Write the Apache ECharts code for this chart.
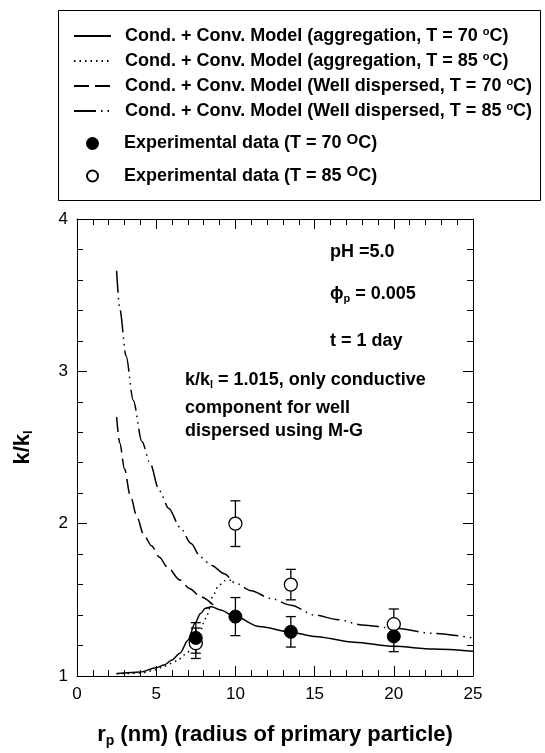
<!DOCTYPE html>
<html>
<head>
<meta charset="utf-8">
<script src="https://cdn.jsdelivr.net/npm/echarts@6/dist/echarts.min.js"></script>
<style>
html,body{margin:0;padding:0;background:#fff;}
#chart{width:545px;height:753px;}
</style>
</head>
<body>
<div id="chart"></div>
<script>
// ---- data ----
var agg70R = [2.5, 3, 4, 5, 5.5, 6, 6.5, 7, 7.45, 7.8, 8.1, 8.5, 9, 10, 11.5, 13.5, 15, 17.5, 20, 22.5, 25];
var agg70V = [1.017, 1.02, 1.026, 1.054, 1.072, 1.105, 1.15, 1.235, 1.347, 1.41, 1.444, 1.455, 1.435, 1.39, 1.325, 1.288, 1.26, 1.222, 1.195, 1.177, 1.163];

var agg85R = [2.5, 3, 4, 5, 5.5, 6.3, 6.8, 7.2, 7.6, 8, 8.2, 8.6, 8.9, 9.3, 9.8];
var agg85V = [1.015, 1.016, 1.02, 1.04, 1.065, 1.098, 1.14, 1.17, 1.22, 1.347, 1.40, 1.53, 1.586, 1.625, 1.63];

var wd70R = [2.5, 2.7, 3, 3.35, 3.8, 4.2, 4.7, 5.2, 5.7, 6.5, 7.1, 7.8, 8.6];
var wd70V = [2.70, 2.53, 2.36, 2.19, 2.04, 1.93, 1.855, 1.78, 1.716, 1.63, 1.575, 1.52, 1.466];

var wd85R = [2.5, 2.7, 3.1, 3.55, 4.1, 4.6, 5.2, 5.8, 6.5, 7.2, 7.8, 8.5, 9.3, 10, 11, 12.2, 13.5, 15, 16.5, 18, 20, 22.5, 25];
var wd85V = [3.66, 3.41, 3.10, 2.81, 2.54, 2.40, 2.215, 2.10, 1.976, 1.87, 1.78, 1.725, 1.672, 1.61, 1.56, 1.51, 1.465, 1.40, 1.37, 1.335, 1.314, 1.28, 1.249];

var expR = [7.5, 10, 13.5, 20];
var exp70V = [1.25, 1.39, 1.29, 1.26];
var exp70E = [0.1, 0.125, 0.1, 0.1];
var exp85V = [1.215, 2.0, 1.6, 1.34];
var exp85E = [0.1, 0.15, 0.1, 0.1];

var xTicks = [0, 5, 10, 15, 20, 25];
var yTicks = [1, 2, 3, 4];
var xMinorStep = 1;
var yMinorStep = 0.2;

var names = [
  'Cond. + Conv. Model (aggregation, T = 70 {s|o}C)',
  'Cond. + Conv. Model (aggregation, T = 85 {s|o}C)',
  'Cond. + Conv. Model (Well dispersed, T = 70 {s|o}C)',
  'Cond. + Conv. Model (Well dispersed, T = 85 {s|o}C)',
  'Experimental data (T = 70 {S|O}C)',
  'Experimental data (T = 85 {S|O}C)'
];

function zip(a, b) { return a.map(function (v, i) { return [v, b[i]]; }); }
function errData(r, v, e) { return r.map(function (x, i) { return [x, v[i] - e[i], v[i] + e[i]]; }); }

var FONT = 'Liberation Sans, Arial, sans-serif';

function errRender(params, api) {
  var x = api.value(0);
  var lo = api.coord([x, api.value(1)]);
  var hi = api.coord([x, api.value(2)]);
  var hw = 5;
  var st = { stroke: '#000', lineWidth: 1.3 };
  return {
    type: 'group',
    children: [
      { type: 'line', shape: { x1: lo[0], y1: lo[1], x2: hi[0], y2: hi[1] }, style: st },
      { type: 'line', shape: { x1: lo[0] - hw, y1: lo[1], x2: lo[0] + hw, y2: lo[1] }, style: st },
      { type: 'line', shape: { x1: hi[0] - hw, y1: hi[1], x2: hi[0] + hw, y2: hi[1] }, style: st }
    ]
  };
}

function tickAxis(kind, pos, step, len, showLine, extra) {
  var ticks = kind === 'x' ? xTicks : yTicks;
  var a = {
    type: 'value', position: pos,
    min: ticks[0], max: ticks[ticks.length - 1], interval: step,
    axisLine: { show: showLine, onZero: false, lineStyle: { color: '#000', width: 1 } },
    axisTick: { show: true, inside: true, length: len, lineStyle: { color: '#000', width: 1 } },
    axisLabel: { show: false },
    splitLine: { show: false }
  };
  if (extra) for (var k in extra) a[k] = extra[k];
  return a;
}

function legendText(pad) {
  return {
    fontFamily: FONT, fontWeight: 'bold', fontSize: 18, color: '#000',
    padding: [0, 0, 0, pad],
    rich: {
      s: { fontFamily: FONT, fontWeight: 'bold', fontSize: 11, color: '#000', verticalAlign: 'top', padding: [0, 0, 9, 0] },
      S: { fontFamily: FONT, fontWeight: 'bold', fontSize: 15, color: '#000', verticalAlign: 'top', padding: [0, 0, 8, 0] }
    }
  };
}

var chart = echarts.init(document.getElementById('chart'), null, { renderer: 'canvas' });

var option = {
  backgroundColor: '#fff',
  animation: false,
  grid: { left: 77, right: 72, top: 219, bottom: 73, containLabel: false },
  legend: [
    {
      data: names.slice(0, 4),
      orient: 'vertical', left: 68, top: 21, padding: 5,
      itemWidth: 37, itemHeight: 14, itemGap: 6,
      itemStyle: { opacity: 0 },
      textStyle: legendText(9),
      selectedMode: false
    },
    {
      data: names.slice(4, 6),
      orient: 'vertical', left: 81, top: 127, padding: 5,
      itemWidth: 37, itemHeight: 11, itemGap: 12,
      textStyle: legendText(8),
      selectedMode: false
    }
  ],
  xAxis: [
    tickAxis('x', 'bottom', 5, 10, true, {
      axisLabel: { show: true, margin: 10, fontFamily: FONT, fontSize: 17, color: '#000' },
      name: '{a|r}{b|p}{a| (nm) (radius of primary particle)}',
      nameLocation: 'middle', nameGap: 46,
      nameTextStyle: {
        rich: {
          a: { fontFamily: FONT, fontWeight: 'bold', fontSize: 22, color: '#000' },
          b: { fontFamily: FONT, fontWeight: 'bold', fontSize: 14, color: '#000', verticalAlign: 'bottom', padding: [12, 0, 0, 0] }
        }
      }
    }),
    tickAxis('x', 'bottom', xMinorStep, 6, false),
    tickAxis('x', 'top', 5, 10, true),
    tickAxis('x', 'top', xMinorStep, 6, false)
  ],
  yAxis: [
    tickAxis('y', 'left', 1, 10, true, {
      axisLabel: { show: true, margin: 9, fontFamily: FONT, fontSize: 17, color: '#000' },
      name: '{a|k/k}{b|l}',
      nameLocation: 'middle', nameGap: 42, nameRotate: 90,
      nameTextStyle: {
        rich: {
          a: { fontFamily: FONT, fontWeight: 'bold', fontSize: 22, color: '#000' },
          b: { fontFamily: FONT, fontWeight: 'bold', fontSize: 13, color: '#000', verticalAlign: 'bottom', padding: [12, 0, 0, 0] }
        }
      }
    }),
    tickAxis('y', 'left', yMinorStep, 6, false),
    tickAxis('y', 'right', 1, 10, true),
    tickAxis('y', 'right', yMinorStep, 6, false)
  ],
  graphic: [
    { type: 'rect', shape: { x: 58.5, y: 10.5, width: 482, height: 190 }, style: { fill: 'none', stroke: '#000', lineWidth: 1 }, silent: true },
    { type: 'text', left: 330, top: 243, style: { text: 'pH =5.0', font: 'bold 18px ' + FONT, fill: '#000' } },
    { type: 'text', left: 330, top: 285, style: {
        text: '{a|\u03d5}{b|p}{a| = 0.005}', fill: '#000',
        rich: {
          a: { font: 'bold 18px ' + FONT, fill: '#000' },
          b: { font: 'bold 11px ' + FONT, fill: '#000', verticalAlign: 'bottom', padding: [9, 0, 0, 0] }
        } } },
    { type: 'text', left: 330, top: 332, style: { text: 't = 1 day', font: 'bold 18px ' + FONT, fill: '#000' } },
    { type: 'text', left: 185, top: 371, style: {
        text: '{a|k/k}{b|l}{a| = 1.015, only conductive}', fill: '#000',
        rich: {
          a: { font: 'bold 18px ' + FONT, fill: '#000' },
          b: { font: 'bold 11px ' + FONT, fill: '#000', verticalAlign: 'bottom', padding: [9, 0, 0, 0] }
        } } },
    { type: 'text', left: 185, top: 399, style: { text: 'component for well', font: 'bold 18px ' + FONT, fill: '#000' } },
    { type: 'text', left: 185, top: 422, style: { text: 'dispersed using M-G', font: 'bold 18px ' + FONT, fill: '#000' } }
  ],
  series: [
    {
      name: names[0], type: 'line', data: zip(agg70R, agg70V), symbol: 'none', showSymbol: false,
      smooth: 0.3, smoothMonotone: 'x',
      lineStyle: { color: '#000', width: 1.5, type: 'solid' }, itemStyle: { color: '#000' }, z: 3
    },
    {
      name: names[1], type: 'line', data: zip(agg85R, agg85V), symbol: 'none', showSymbol: false,
      smooth: 0.3, smoothMonotone: 'x',
      lineStyle: { color: '#000', width: 1.5, type: [1.5, 4] }, itemStyle: { color: '#000' }, z: 3
    },
    {
      name: names[2], type: 'line', data: zip(wd70R, wd70V), symbol: 'none', showSymbol: false,
      smooth: 0.3, smoothMonotone: 'x',
      lineStyle: { color: '#000', width: 1.5, type: [15, 6] }, itemStyle: { color: '#000' }, z: 3
    },
    {
      name: names[3], type: 'line', data: zip(wd85R, wd85V), symbol: 'none', showSymbol: false,
      smooth: 0.3, smoothMonotone: 'x',
      lineStyle: { color: '#000', width: 1.5, type: [22, 5, 1.5, 5, 1.5, 5] }, itemStyle: { color: '#000' }, z: 3
    },
    {
      type: 'custom', renderItem: errRender, data: errData(expR, exp85V, exp85E),
      encode: { x: 0, y: [1, 2] }, z: 4, silent: true
    },
    {
      type: 'custom', renderItem: errRender, data: errData(expR, exp70V, exp70E),
      encode: { x: 0, y: [1, 2] }, z: 4, silent: true
    },
    {
      name: names[5], type: 'scatter', data: zip(expR, exp85V), symbol: 'circle', symbolSize: 13,
      itemStyle: { color: '#fff', borderColor: '#000', borderWidth: 1.3, opacity: 1 }, z: 5
    },
    {
      name: names[4], type: 'scatter', data: zip(expR, exp70V), symbol: 'circle', symbolSize: 13,
      itemStyle: { color: '#000', borderColor: '#000', borderWidth: 1, opacity: 1 }, z: 6
    }
  ]
};
chart.setOption(option);
</script>
</body>
</html>
